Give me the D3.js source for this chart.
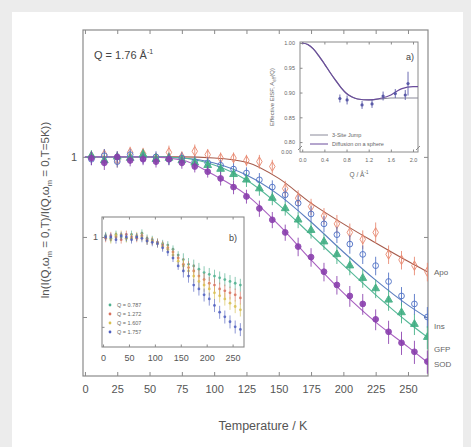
<!DOCTYPE html>
<html><head><meta charset="utf-8">
<script src="https://cdn.jsdelivr.net/npm/d3@7/dist/d3.min.js"></script>
<style>body{margin:0;background:#ececec;}svg{display:block;font-family:"Liberation Sans",Arial,sans-serif;}</style>
</head><body>
<svg id="c" width="471" height="447"></svg>
<script>
// ---------- main data ----------
const temps = [5,15,25,35,45,55,65,75,85,95,105,115,125,135,145,155,165,175,185,195,205,215,225,235,245,255,265];
const apoVals = [1.00,1.02,0.97,1.04,1.03,0.99,1.04,1.00,1.05,1.02,0.99,0.99,0.97,0.96,0.92,0.76,0.70,0.65,0.60,0.56,0.52,0.49,0.52,0.43,0.41,0.39,0.37];
const insVals = [0.98,1.01,0.96,1.02,0.99,1.00,0.98,0.99,0.96,0.95,0.93,0.90,0.87,0.82,0.77,0.72,0.67,0.61,0.56,0.51,0.47,0.43,0.39,0.34,0.30,0.28,0.25];
const gfpVals = [1.01,0.97,1.00,0.99,1.02,0.98,0.99,0.97,0.95,0.93,0.90,0.86,0.82,0.76,0.70,0.64,0.58,0.53,0.48,0.43,0.39,0.35,0.32,0.29,0.26,0.235,0.21];
const sodVals = [0.99,0.95,1.00,0.97,0.98,0.96,0.98,0.95,0.92,0.88,0.83,0.77,0.71,0.64,0.58,0.52,0.46,0.42,0.37,0.33,0.30,0.28,0.245,0.22,0.20,0.185,0.17];
const apoErr = [0.05,0.05,0.06,0.05,0.05,0.05,0.06,0.05,0.06,0.05,0.05,0.05,0.05,0.06,0.06,0.07,0.07,0.07,0.07,0.08,0.08,0.08,0.09,0.08,0.08,0.08,0.08];
const insErr = [0.05,0.06,0.05,0.05,0.05,0.05,0.05,0.05,0.05,0.05,0.05,0.05,0.05,0.06,0.06,0.06,0.07,0.07,0.07,0.07,0.08,0.08,0.08,0.08,0.08,0.09,0.09];
const gfpErr = [0.05,0.05,0.05,0.05,0.05,0.05,0.05,0.05,0.05,0.05,0.05,0.05,0.06,0.06,0.06,0.06,0.07,0.07,0.07,0.08,0.08,0.08,0.08,0.09,0.09,0.09,0.10];
const sodErr = [0.06,0.06,0.05,0.05,0.05,0.05,0.05,0.05,0.05,0.05,0.06,0.06,0.06,0.07,0.07,0.07,0.08,0.08,0.08,0.08,0.09,0.09,0.09,0.10,0.10,0.10,0.10];
const fitT = [0,25,50,75,100,125,150,175,200,225,250,265];
const apoFit = [1,1,1,1,0.991,0.955,0.83,0.67,0.56,0.475,0.405,0.37];
const insFit = [1,1,1,0.991,0.949,0.855,0.72,0.569,0.439,0.344,0.277,0.248];
const gfpFit = [1,1,1,0.991,0.933,0.819,0.66,0.509,0.392,0.303,0.239,0.21];
const sodFit = [1,1,1,0.974,0.855,0.72,0.555,0.41,0.308,0.239,0.193,0.169];
const seriesNames = ["Apo","Ins","GFP","SOD"];
const xTicks = [0,25,50,75,100,125,150,175,200,225,250];
const yTicks = [1,0.5,0.25];

// ---------- inset a data ----------
const qGrid = [0,0.1,0.2,0.3,0.4,0.5,0.6,0.7,0.8,0.9,1.0,1.2,1.4,1.6,1.7,1.8,2.0,2.1];
const jumpFit = [1.0,0.997,0.988,0.974,0.958,0.941,0.925,0.910,0.898,0.891,0.887,0.885,0.887,0.889,0.889,0.889,0.889,0.889];
const sphereFit = [1.0,0.997,0.988,0.974,0.958,0.941,0.925,0.910,0.898,0.891,0.887,0.885,0.888,0.895,0.902,0.908,0.912,0.912];
const qPts = [0.68,0.81,1.08,1.26,1.46,1.68,1.86,1.91];
const eisfPts = [0.888,0.885,0.875,0.877,0.893,0.898,0.895,0.918];
const eisfErr = [0.008,0.009,0.008,0.008,0.009,0.009,0.010,0.024];
const qTicks = [0.0,0.4,0.8,1.2,1.6,2.0];
const aTicks = [1.00,0.95,0.90,0.85,0.80];
const insetALegend = ["3-Site Jump","Diffusion on a sphere"];

// ---------- inset b data ----------
const bVals1 = [1.01,0.99,1.02,1.00,0.99,1.02,1.00,1.03,0.99,0.98,0.96,0.95,0.94,0.91,0.87,0.84,0.81,0.80,0.78,0.76,0.75,0.74,0.73,0.72,0.71,0.70,0.69];
const bVals2 = [0.99,1.01,1.00,0.98,1.02,1.00,0.99,1.01,0.98,0.97,0.96,0.94,0.92,0.89,0.85,0.81,0.79,0.77,0.74,0.72,0.70,0.69,0.67,0.66,0.65,0.64,0.625];
const bVals3 = [1.00,0.98,1.01,1.02,0.99,0.99,1.01,1.00,0.97,0.97,0.95,0.93,0.91,0.87,0.83,0.80,0.77,0.74,0.71,0.69,0.67,0.65,0.635,0.62,0.60,0.585,0.57];
const bVals4 = [1.00,1.00,0.98,1.01,1.00,0.98,1.00,0.99,0.97,0.96,0.95,0.92,0.89,0.85,0.80,0.77,0.74,0.69,0.67,0.64,0.62,0.59,0.56,0.54,0.52,0.50,0.49];
const bLabels = ["Q = 0.787","Q = 1.272","Q = 1.607","Q = 1.757"];
const bTicks = [0,50,100,150,200,250];

// ---------- drawing ----------
const svg = d3.select("#c");
svg.append("rect").attr("x",12).attr("y",12).attr("width",451).attr("height",435).attr("fill","#ffffff");

const frameCol = "#8a8a8a";
const x = d3.scaleLinear().domain([-1.5,265.5]).range([83,428]);
const y = d3.scaleLog().domain([0.15,3.0]).range([376,30]);

const colors = {Apo:"#e8876f", Ins:"#4d6fc4", GFP:"#3fae82", SOD:"#8a3fae"};
const lineCols = {Apo:"#a65a4a", Ins:"#5d7fc0", GFP:"#55b898", SOD:"#a860c0"};
const vals = {Apo:apoVals, Ins:insVals, GFP:gfpVals, SOD:sodVals};
const errs = {Apo:apoErr, Ins:insErr, GFP:gfpErr, SOD:sodErr};
const fits = {Apo:apoFit, Ins:insFit, GFP:gfpFit, SOD:sodFit};
const shapes = {Apo:d3.symbolDiamond, Ins:d3.symbolCircle, GFP:d3.symbolTriangle, SOD:d3.symbolCircle};
const filled = {Apo:false, Ins:false, GFP:true, SOD:true};

// axes
const gx = svg.append("g").attr("transform","translate(0,376)")
  .call(d3.axisBottom(x).tickValues(xTicks).tickSizeInner(-4).tickSizeOuter(0).tickPadding(9));
const gxt = svg.append("g").attr("transform","translate(0,30)")
  .call(d3.axisTop(x).tickValues(xTicks).tickSizeInner(-4).tickSizeOuter(0).tickFormat(""));
const gy = svg.append("g").attr("transform","translate(83,0)")
  .call(d3.axisLeft(y).tickValues(yTicks).tickSizeInner(-4).tickSizeOuter(0).tickPadding(6).tickFormat(d=>d===1?"1":""));
const gyr = svg.append("g").attr("transform","translate(428,0)")
  .call(d3.axisRight(y).tickValues(yTicks).tickSizeInner(-4).tickSizeOuter(0).tickFormat(""));
[gx,gxt,gy,gyr].forEach(g=>{
  g.select(".domain").remove();
  g.selectAll(".tick line").attr("stroke",frameCol);
  g.selectAll("text").attr("font-size",11).attr("fill","#555").attr("font-family","Liberation Sans, Arial, sans-serif");
});
svg.append("rect").attr("x",83).attr("y",30).attr("width",345).attr("height",346)
  .attr("fill","none").attr("stroke",frameCol).attr("stroke-width",1.2);

// fit lines
const clip = svg.append("clipPath").attr("id","mainclip").append("rect").attr("x",83).attr("y",30).attr("width",345).attr("height",346);
const plot = svg.append("g").attr("clip-path","url(#mainclip)");
seriesNames.forEach(s=>{
  const line = d3.line().x((d,i)=>x(fitT[i])).y(d=>y(d)).curve(d3.curveMonotoneX);
  plot.append("path").attr("d",line(fits[s])).attr("fill","none").attr("stroke",lineCols[s]).attr("stroke-width",1.1);
});
seriesNames.forEach(s=>{
  const g = plot.append("g");
  vals[s].forEach((v,i)=>{
    const e = errs[s][i];
    g.append("line").attr("x1",x(temps[i])).attr("x2",x(temps[i]))
      .attr("y1",y(v*(1-e))).attr("y2",y(v*(1+e))).attr("stroke",colors[s]).attr("stroke-width",1).attr("opacity",0.85);
    g.append("path").attr("d",d3.symbol().type(shapes[s]).size(26)())
      .attr("transform",`translate(${x(temps[i])},${y(v)})`)
      .attr("fill",filled[s]?colors[s]:"none").attr("stroke",colors[s]).attr("stroke-width",1).attr("opacity",0.9);
  });
});

// series labels
const lblY = {Apo:apoFit[apoFit.length-1], Ins:insFit[insFit.length-1]*0.93, GFP:gfpFit[gfpFit.length-1]*0.9, SOD:sodFit[sodFit.length-1]*0.98};
seriesNames.forEach(s=>{
  svg.append("text").attr("x",434).attr("y",y(lblY[s])).attr("dy","0.35em")
    .attr("font-size",8).attr("fill","#666").text(s);
});

// axis titles
svg.append("text").attr("x",263).attr("y",430).attr("text-anchor","middle").attr("font-size",12.5).attr("fill","#555").text("Temperature / K");
const yt = svg.append("text").attr("transform","translate(49,210) rotate(-90)").attr("text-anchor","middle").attr("font-size",11.5).attr("fill","#555");
yt.append("tspan").text("ln(I(Q,ω");
yt.append("tspan").attr("font-size",7.5).attr("dy",3).text("m");
yt.append("tspan").attr("dy",-3).text(" = 0,T)/I(Q,ω");
yt.append("tspan").attr("font-size",7.5).attr("dy",3).text("m");
yt.append("tspan").attr("dy",-3).text(" = 0,T=5K))");

const qt = svg.append("text").attr("x",94).attr("y",59).attr("font-size",11).attr("fill","#444");
qt.append("tspan").text("Q = 1.76 Å");
qt.append("tspan").attr("font-size",7).attr("dy",-5).text("-1");

// ---------- inset a ----------
const ax = d3.scaleLinear().domain([-0.04,2.09]).range([300,418]);
const ay = d3.scaleLinear().domain([0.78,1.002]).range([152,42]);
svg.append("rect").attr("x",300).attr("y",42).attr("width",118).attr("height",110).attr("fill","#fff");
const gax = svg.append("g").attr("transform","translate(0,152)")
  .call(d3.axisBottom(ax).tickValues(qTicks).tickSizeInner(-2.5).tickSizeOuter(0).tickPadding(6).tickFormat(d3.format(".1f")));
const gaxt = svg.append("g").attr("transform","translate(0,42)")
  .call(d3.axisTop(ax).tickValues(qTicks).tickSizeInner(-2.5).tickSizeOuter(0).tickFormat(""));
const gay = svg.append("g").attr("transform","translate(300,0)")
  .call(d3.axisLeft(ay).tickValues(aTicks).tickSizeInner(-2.5).tickSizeOuter(0).tickPadding(5).tickFormat(d3.format(".2f")));
[gax,gaxt,gay].forEach(g=>{
  g.select(".domain").remove();
  g.selectAll(".tick line").attr("stroke",frameCol);
  g.selectAll("text").attr("font-size",5.5).attr("fill","#666").attr("font-family","Liberation Sans, Arial, sans-serif");
});
svg.append("text").attr("x",292).attr("y",154).attr("text-anchor","end").attr("font-size",5.5).attr("fill","#666").text("0.00");
svg.append("rect").attr("x",300).attr("y",42).attr("width",118).attr("height",110).attr("fill","none").attr("stroke",frameCol).attr("stroke-width",1);
// break marks
[[300,148],[418,148]].forEach(p=>{
  svg.append("path").attr("d",`M${p[0]-2},${p[1]+2} L${p[0]+2},${p[1]-2}`).attr("stroke",frameCol).attr("stroke-width",1);
});
const aclipId = svg.append("clipPath").attr("id","aclip").append("rect").attr("x",300).attr("y",42).attr("width",118).attr("height",110);
const ag = svg.append("g").attr("clip-path","url(#aclip)");
const aLine = d3.line().x((d,i)=>ax(qGrid[i])).y(d=>ay(d)).curve(d3.curveMonotoneX);
ag.append("path").attr("d",aLine(jumpFit)).attr("fill","none").attr("stroke","#8a8a9a").attr("stroke-width",1.2);
ag.append("path").attr("d",aLine(sphereFit)).attr("fill","none").attr("stroke","#6a4c9c").attr("stroke-width",1.2);
qPts.forEach((q,i)=>{
  ag.append("line").attr("x1",ax(q)).attr("x2",ax(q)).attr("y1",ay(eisfPts[i]-eisfErr[i])).attr("y2",ay(eisfPts[i]+eisfErr[i])).attr("stroke","#5a5aa8").attr("stroke-width",0.9);
  ag.append("circle").attr("cx",ax(q)).attr("cy",ay(eisfPts[i])).attr("r",1.6).attr("fill","#5a5aa8");
});
svg.append("text").attr("x",406).attr("y",60).attr("font-size",9).attr("fill","#444").text("a)");
insetALegend.forEach((t,i)=>{
  const yy = 135+i*9;
  svg.append("line").attr("x1",310).attr("x2",328).attr("y1",yy).attr("y2",yy).attr("stroke",i?"#6a4c9c":"#8a8a9a").attr("stroke-width",1);
  svg.append("text").attr("x",332).attr("y",yy).attr("dy","0.35em").attr("font-size",5.5).attr("fill","#666").text(t);
});
const at = svg.append("text").attr("transform","translate(274,97) rotate(-90)").attr("text-anchor","middle").attr("font-size",6).attr("fill","#666");
at.append("tspan").text("Effective EISF, A");
at.append("tspan").attr("font-size",4.5).attr("dy",2).text("eff");
at.append("tspan").attr("dy",-2).text("(Q)");
const aqt = svg.append("text").attr("x",359).attr("y",177).attr("text-anchor","middle").attr("font-size",6.5).attr("fill","#666");
aqt.append("tspan").text("Q / Å");
aqt.append("tspan").attr("font-size",4.5).attr("dy",-3).text("-1");

// ---------- inset b ----------
const bx = d3.scaleLinear().domain([-2,272]).range([102,244]);
const by = d3.scaleLog().domain([0.428,1.167]).range([347,217]);
svg.append("rect").attr("x",102).attr("y",217).attr("width",142).attr("height",130).attr("fill","#fff");
const gbx = svg.append("g").attr("transform","translate(0,347)")
  .call(d3.axisBottom(bx).tickValues(bTicks).tickSizeInner(-2.5).tickSizeOuter(0).tickPadding(8));
const gbxt = svg.append("g").attr("transform","translate(0,217)")
  .call(d3.axisTop(bx).tickValues(bTicks).tickSizeInner(-2.5).tickSizeOuter(0).tickFormat(""));
const gby = svg.append("g").attr("transform","translate(102,0)")
  .call(d3.axisLeft(by).tickValues([1,0.5]).tickSizeInner(-2.5).tickSizeOuter(0).tickPadding(4).tickFormat(d=>d===1?"1":""));
[gbx,gbxt,gby].forEach(g=>{
  g.select(".domain").remove();
  g.selectAll(".tick line").attr("stroke",frameCol);
  g.selectAll("text").attr("font-size",9).attr("fill","#555").attr("font-family","Liberation Sans, Arial, sans-serif");
});
svg.append("rect").attr("x",102).attr("y",217).attr("width",142).attr("height",130).attr("fill","none").attr("stroke",frameCol).attr("stroke-width",1.1);
const bColors = ["#4fb08e","#d8725e","#d8c050","#4f5fc0"];
const bSeries = [bVals1,bVals2,bVals3,bVals4];
const bg = svg.append("g");
bSeries.forEach((arr,k)=>{
  arr.forEach((v,i)=>{
    const e = 0.03 + (temps[i]>150?0.02:0);
    bg.append("line").attr("x1",bx(temps[i])).attr("x2",bx(temps[i])).attr("y1",by(v*(1-e))).attr("y2",by(v*(1+e))).attr("stroke",bColors[k]).attr("stroke-width",0.8).attr("opacity",0.8);
    bg.append("circle").attr("cx",bx(temps[i])).attr("cy",by(v)).attr("r",1.4).attr("fill",bColors[k]).attr("opacity",0.85);
  });
});
svg.append("text").attr("x",229).attr("y",241).attr("font-size",9).attr("fill","#444").text("b)");
bLabels.forEach((t,i)=>{
  const yy = 305+i*9;
  svg.append("circle").attr("cx",110).attr("cy",yy).attr("r",1.4).attr("fill",bColors[i]);
  svg.append("text").attr("x",117).attr("y",yy).attr("dy","0.35em").attr("font-size",5.5).attr("fill","#666").text(t);
});
</script>
</body></html>
